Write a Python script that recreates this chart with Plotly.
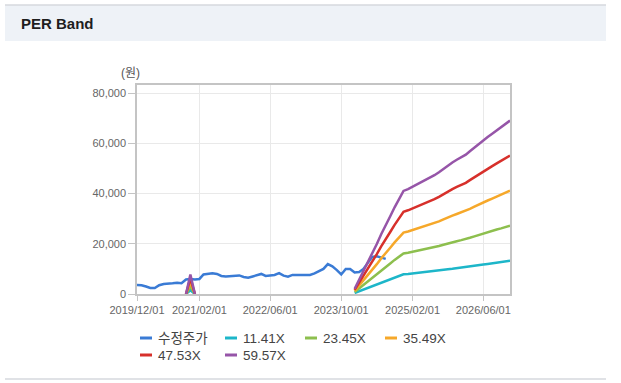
import plotly.graph_objects as go
import pandas as pd

# ---------------- data ----------------
months = pd.date_range("2019-12-01", "2026-12-01", freq="MS")  # monthly categories

# 수정주가 (adjusted price), 2019/12 .. 2024/08
price = [3600, 3500, 3000, 2400, 2400, 3500, 4000, 4000, 4300, 4500,
         4300, 5800, 6000, 5800, 6000, 7800, 8000, 8300, 8000, 7200,
         7000, 7200, 7500, 7400, 6800, 6500, 7000, 7500, 8000, 7200,
         7300, 7600, 8300, 7300, 6900, 7600, 7600, 7600, 7600, 7600,
         8200, 9000, 10000, 11900, 11000, 9500, 7800, 10000, 10000, 8600,
         8800, 10000, 12500, 14800, 15000, 14500, 14000]

# EPS used for the PER band (None = no value)
eps = ([None] * 11 + [0, 131, 0] + [None] * 35 +
       [35, 95, 150, 215, 275, 335, 400, 455, 520, 580, 640] +
       [690, 702, 718, 730, 748, 762, 775, 795, 815, 838, 862, 880, 898,
        915, 932, 955, 980, 1005, 1030, 1050, 1072, 1095, 1115, 1138, 1160])

multiples = [11.41, 23.45, 35.49, 47.53, 59.57]
band_names = ["11.41X", "23.45X", "35.49X", "47.53X", "59.57X"]
price_name = "수정주가"

x_tick_vals = ["2019-12-01", "2021-02-01", "2022-06-01", "2023-10-01", "2025-02-01", "2026-06-01"]
x_tick_text = ["2019/12/01", "2021/02/01", "2022/06/01", "2023/10/01", "2025/02/01", "2026/06/01"]
y_tick_vals = [0, 20000, 40000, 60000, 80000]

# ---------------- style ----------------
price_color = "#3a7bd5"
band_colors = ["#1db6c9", "#8dbf4e", "#f6a82a", "#d7302b", "#9655a8"]
W, H = 621, 383
PL, PR, PT, PB = 137, 510, 85, 294  # plot area in pixels


def px(xp):
    return (xp - PL) / (PR - PL)


def py(yp):
    return (PB - yp) / (PB - PT)


fig = go.Figure()
fig.add_trace(go.Scatter(x=months[:len(price)], y=price, name=price_name, mode="lines",
                         line=dict(color=price_color, width=2.5)))
for mult, name, col in zip(multiples, band_names, band_colors):
    yv = [None if e is None else e * mult for e in eps]
    fig.add_trace(go.Scatter(x=months, y=yv, name=name, mode="lines",
                             line=dict(color=col, width=2.5), connectgaps=False))

shapes = []
# header band
shapes.append(dict(type="rect", xref="paper", yref="paper", x0=px(5), x1=px(606),
                   y0=py(41), y1=py(5), fillcolor="#eef2f7", line=dict(width=0), layer="below"))
shapes.append(dict(type="line", xref="paper", yref="paper", x0=px(5), x1=px(606),
                   y0=py(5), y1=py(5), line=dict(color="#d6d9de", width=1.5)))
shapes.append(dict(type="line", xref="paper", yref="paper", x0=px(5), x1=px(606),
                   y0=py(379), y1=py(379), line=dict(color="#d6d9de", width=1.5)))

annotations = []
annotations.append(dict(text="<b>PER Band</b>", xref="paper", yref="paper", x=px(19), y=py(24),
                        xanchor="left", yanchor="middle", showarrow=False,
                        font=dict(family="Liberation Sans, Arial, sans-serif", size=15, color="#1e1e1e")))
annotations.append(dict(text="(원)", xref="paper", yref="paper", x=px(130), y=py(73),
                        xanchor="center", yanchor="middle", showarrow=False,
                        font=dict(family="Liberation Sans, Noto Sans CJK KR, sans-serif", size=12, color="#555")))

# manual legend
legend_items = [(price_name, price_color)] + list(zip(band_names, band_colors))
legend_pos = [(140, 338), (225, 338), (305, 338), (385, 338), (140, 355), (225, 355)]
for (name, col), (lx, ly) in zip(legend_items, legend_pos):
    shapes.append(dict(type="line", xref="paper", yref="paper", x0=px(lx), x1=px(lx + 12),
                       y0=py(ly), y1=py(ly), line=dict(color=col, width=3)))
    annotations.append(dict(text=name, xref="paper", yref="paper", x=px(lx + 16), y=py(ly),
                            xanchor="left", yanchor="middle", showarrow=False,
                            font=dict(family="Liberation Sans, Noto Sans CJK KR, sans-serif",
                                      size=13.5, color="#444")))

fig.update_layout(
    width=W, height=H,
    margin=dict(l=PL, r=W - PR, t=PT, b=H - PB, pad=0),
    paper_bgcolor="white", plot_bgcolor="white",
    showlegend=False, shapes=shapes, annotations=annotations,
    font=dict(family="Liberation Sans, Arial, sans-serif"),
)
fig.update_xaxes(type="date", range=["2019-12-01", "2026-12-01"],
                 tickvals=x_tick_vals, ticktext=x_tick_text,
                 showgrid=True, gridcolor="#e9e9e9", gridwidth=1,
                 showline=True, linecolor="#c4c4c4", linewidth=1.5, mirror=True,
                 ticks="outside", ticklen=5, tickcolor="#c4c4c4",
                 tickfont=dict(size=11, color="#666"), zeroline=False)
fig.update_yaxes(range=[0, 83300], tickvals=y_tick_vals, tickformat=",",
                 showgrid=True, gridcolor="#e9e9e9", gridwidth=1,
                 showline=True, linecolor="#c4c4c4", linewidth=1.5, mirror=True,
                 ticks="outside", ticklen=7, tickcolor="#c4c4c4",
                 tickfont=dict(size=11, color="#666"), zeroline=False)

fig.write_html("out.html", config={"displayModeBar": False},
               post_script="document.body.style.margin='0';document.body.style.overflow='hidden';")
